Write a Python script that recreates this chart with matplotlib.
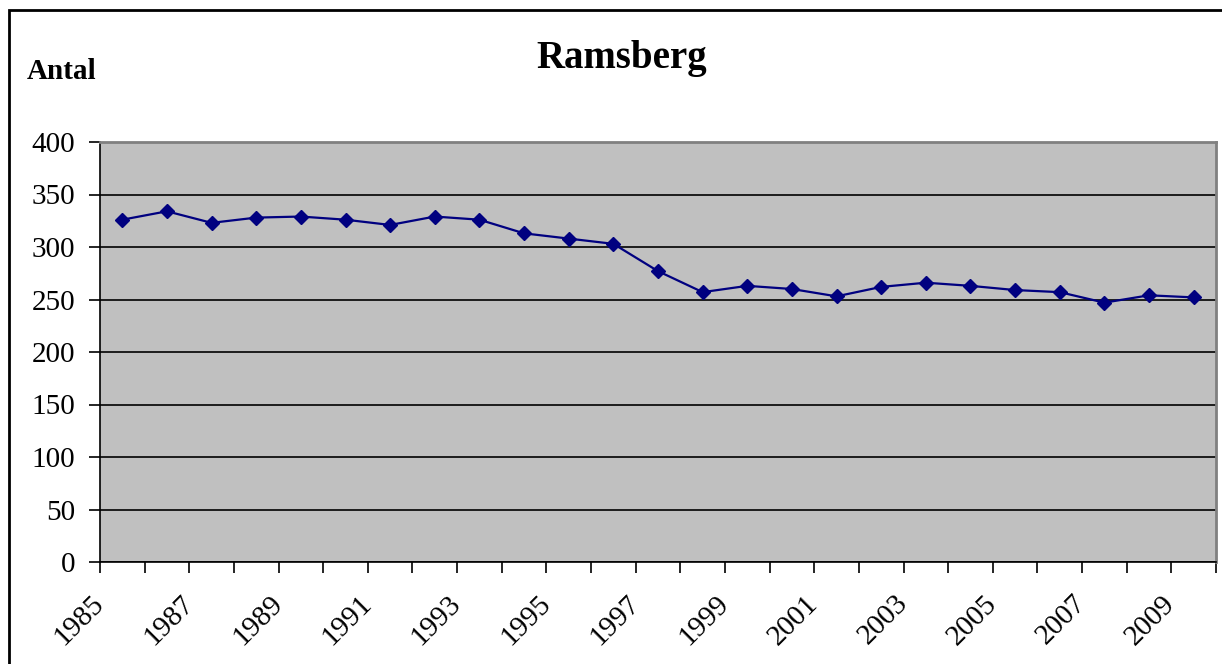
import matplotlib
matplotlib.use("Agg")
import matplotlib.pyplot as plt
from matplotlib.patches import Rectangle

years = list(range(1985, 2010))
values = [326, 334, 323, 328, 329, 326, 321, 329, 326, 313, 308, 303, 277,
          257, 263, 260, 253, 262, 266, 263, 259, 257, 247, 254, 252]
yticks = [0, 50, 100, 150, 200, 250, 300, 350, 400]
title = "Ramsberg"
ylabel = "Antal"

plt.rcParams['font.family'] = ['Liberation Serif', 'DejaVu Serif']

W, H = 1222, 664
fig = plt.figure(figsize=(W / 100, H / 100), dpi=100)
ax = fig.add_axes([100 / W, 1 - 562 / H, (1216 - 100) / W, (562 - 142) / H])

# outer chart frame
fig.patches.append(Rectangle((9 / W, -0.1), 1.2, 1 - 10 / H + 0.1, transform=fig.transFigure,
                             fill=False, edgecolor='black', linewidth=2.0))

ax.set_facecolor('#c0c0c0')
n = len(years)
xs = [i + 0.5 for i in range(n)]
ax.plot(xs, values, color='#000080', linewidth=1.6, marker='D', markersize=7,
        markerfacecolor='#000080', markeredgecolor='#000080', zorder=3)

ax.set_xlim(0, n)
ax.set_ylim(0, 400)
ax.set_yticks(yticks)
ax.set_yticklabels([str(v) for v in yticks], fontsize=21)
ax.yaxis.grid(True, color='black', linewidth=1.2)
ax.set_axisbelow(True)

ax.set_xticks(range(n + 1))
lbls = [str(y) if (y - 1985) % 2 == 0 else '' for y in years] + ['']
ax.set_xticklabels(lbls, fontsize=21, rotation=45, ha='right', va='center',
                   rotation_mode='anchor')
ax.tick_params(axis='x', length=8, width=1.2, direction='out', pad=19)
ax.tick_params(axis='y', length=8, width=1.2, direction='out', pad=10)

for s in ['top', 'right']:
    ax.spines[s].set_color('#808080')
    ax.spines[s].set_linewidth(2)
for s in ['left', 'bottom']:
    ax.spines[s].set_color('black')
    ax.spines[s].set_linewidth(1.2)

fig.text(622 / W, 1 - 68 / H, title, fontsize=28, fontweight='bold', ha='center', va='baseline')
fig.text(27 / W, 1 - 79 / H, ylabel, fontsize=21, fontweight='bold', ha='left', va='baseline')

fig.savefig('out.png', dpi=100)
